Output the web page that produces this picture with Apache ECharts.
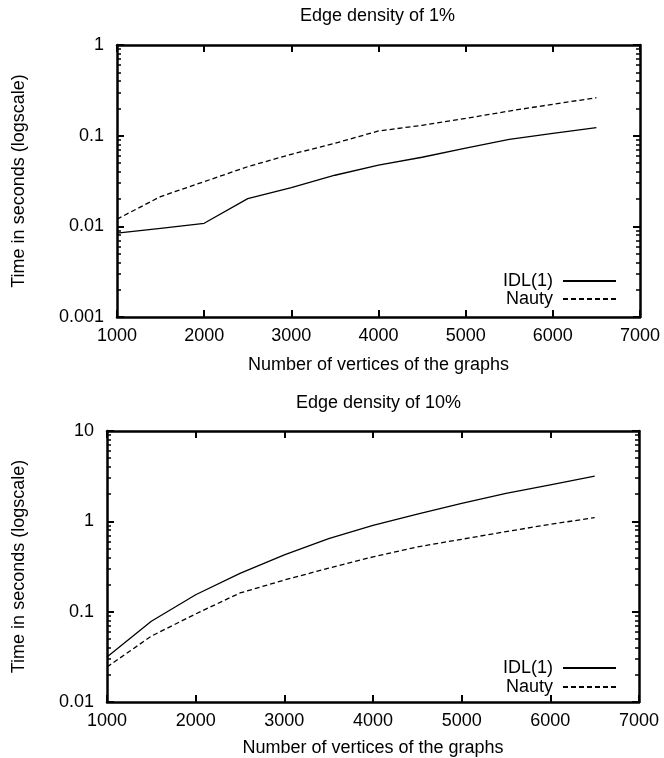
<!DOCTYPE html>
<html><head><meta charset="utf-8">
<script src="https://cdn.jsdelivr.net/npm/echarts@6/dist/echarts.min.js"></script>
<style>html,body{margin:0;padding:0;background:#fff}#c{width:664px;height:758px}</style>
</head><body><div id="c"></div>
<script>
// ---- data ----
const vertices = [1000,1500,2000,2500,3000,3500,4000,4500,5000,5500,6000,6500];
const idlSparse   = [0.0084,0.0095,0.0108,0.0202,0.0267,0.0366,0.0472,0.0578,0.073,0.091,0.106,0.1226];
const nautySparse = [0.012,0.0213,0.0311,0.0455,0.0623,0.0824,0.1127,0.130,0.155,0.187,0.222,0.262];
const idlDense    = [0.0314,0.0783,0.154,0.265,0.425,0.644,0.9,1.2,1.58,2.04,2.54,3.16];
const nautyDense  = [0.0244,0.0536,0.0944,0.161,0.224,0.303,0.404,0.521,0.633,0.77,0.927,1.1];
const xTicks = [1000,2000,3000,4000,5000,6000,7000];
const yTicksSparse = [0.001,0.01,0.1,1];
const yTicksDense = [0.01,0.1,1,10];
const minorMantissas = [2,3,4,5,6,7,8,9];
const titles = ['Edge density of 1%','Edge density of 10%'];
const seriesNames = ['IDL(1)','Nauty'];
const xName = 'Number of vertices of the graphs';
const yName = 'Time in seconds (logscale)';

// ---- style ----
const FONT = 'Liberation Sans, Arial, Helvetica, sans-serif';
const FS = 18;
const black = '#000';
const panels = [
  {grid:{left:117,right:24,top:45,height:272}, yTicks:yTicksSparse, idl:idlSparse, nauty:nautySparse,
   title:titles[0], titleLeft:300, titleTop:7, yNameGap:89, xNameGap:39, legendTop:272, legendGap:0},
  {grid:{left:107,right:25,top:431,height:272}, yTicks:yTicksDense, idl:idlDense, nauty:nautyDense,
   title:titles[1], titleLeft:296, titleTop:394, yNameGap:79, xNameGap:37, legendTop:659, legendGap:1}
];

const fmt = v => String(parseFloat(Number(v).toPrecision(6)));
const grid = [], xAxis = [], yAxis = [], series = [], title = [], legend = [];

panels.forEach((p, g) => {
  grid.push(Object.assign({show:false}, p.grid));
  const axisLine = {show:true, onZero:false, lineStyle:{color:black, width:2.5}};
  const majorTick = {show:true, inside:true, length:7, lineStyle:{color:black, width:2}};
  const xBase = {gridIndex:g, type:'value', min:xTicks[0], max:xTicks[xTicks.length-1],
    interval:xTicks[1]-xTicks[0], axisLine, axisTick:majorTick, splitLine:{show:false}};
  xAxis.push(Object.assign({}, xBase, {position:'bottom',
    axisLabel:{show:true, color:black, fontSize:FS, fontFamily:FONT, margin:10, formatter:fmt},
    name:xName, nameLocation:'middle', nameGap:p.xNameGap,
    nameTextStyle:{color:black, fontSize:FS, fontFamily:FONT}}));
  xAxis.push(Object.assign({}, xBase, {position:'top', axisLabel:{show:false}}));

  const yMin = p.yTicks[0], yMax = p.yTicks[p.yTicks.length-1];
  const yBase = {gridIndex:g, type:'log', logBase:10, min:yMin, max:yMax,
    axisLine, axisTick:majorTick, splitLine:{show:false}};
  const yMainIndex = yAxis.length;
  yAxis.push(Object.assign({}, yBase, {position:'left',
    axisLabel:{show:true, color:black, fontSize:FS, fontFamily:FONT, margin:13, formatter:fmt},
    name:yName, nameLocation:'middle', nameGap:p.yNameGap,
    nameTextStyle:{color:black, fontSize:FS, fontFamily:FONT}}));
  yAxis.push(Object.assign({}, yBase, {position:'right', axisLabel:{show:false}}));
  // minor log ticks drawn on a log10-space overlay axis
  const lo = Math.log10(yMin), hi = Math.log10(yMax);
  const minorVals = [];
  for (let k = Math.round(lo); k < Math.round(hi); k++) {
    minorMantissas.forEach(m => minorVals.push(k + Math.log10(m)));
  }
  ['left','right'].forEach(pos => {
    yAxis.push({gridIndex:g, type:'value', min:lo, max:hi, position:pos,
      axisLine:{show:false, onZero:false},
      axisTick:{show:true, inside:true, length:4, customValues:minorVals, lineStyle:{color:black, width:1.5}},
      axisLabel:{show:false}, splitLine:{show:false}});
  });

  const xIdx = g*2;
  series.push({name:seriesNames[0], type:'line', xAxisIndex:xIdx, yAxisIndex:yMainIndex,
    symbol:'none', animation:false, silent:true,
    lineStyle:{color:black, width:1.3, type:'solid'}, itemStyle:{color:black},
    data:vertices.map((x,i)=>[x, p.idl[i]])});
  series.push({name:seriesNames[1], type:'line', xAxisIndex:xIdx, yAxisIndex:yMainIndex,
    symbol:'none', animation:false, silent:true,
    lineStyle:{color:black, width:1.3, type:[5,3]}, itemStyle:{color:black},
    data:vertices.map((x,i)=>[x, p.nauty[i]])});

  title.push({text:p.title, left:p.titleLeft, top:p.titleTop, padding:0,
    textStyle:{color:black, fontSize:FS, fontWeight:'normal', fontFamily:FONT}});
  legend.push({data:seriesNames, orient:'vertical', right:47, top:p.legendTop, padding:0,
    align:'right', itemWidth:53, itemHeight:10, itemGap:p.legendGap, selectedMode:false,
    itemStyle:{opacity:0},
    textStyle:{color:black, fontSize:FS, fontFamily:FONT, width:62, align:'right', lineHeight:17, padding:[0,5,0,0]}});
});

const chart = echarts.init(document.getElementById('c'), null, {renderer:'canvas'});
chart.setOption({backgroundColor:'#fff', animation:false, title, legend, grid, xAxis, yAxis, series});
</script></body></html>
